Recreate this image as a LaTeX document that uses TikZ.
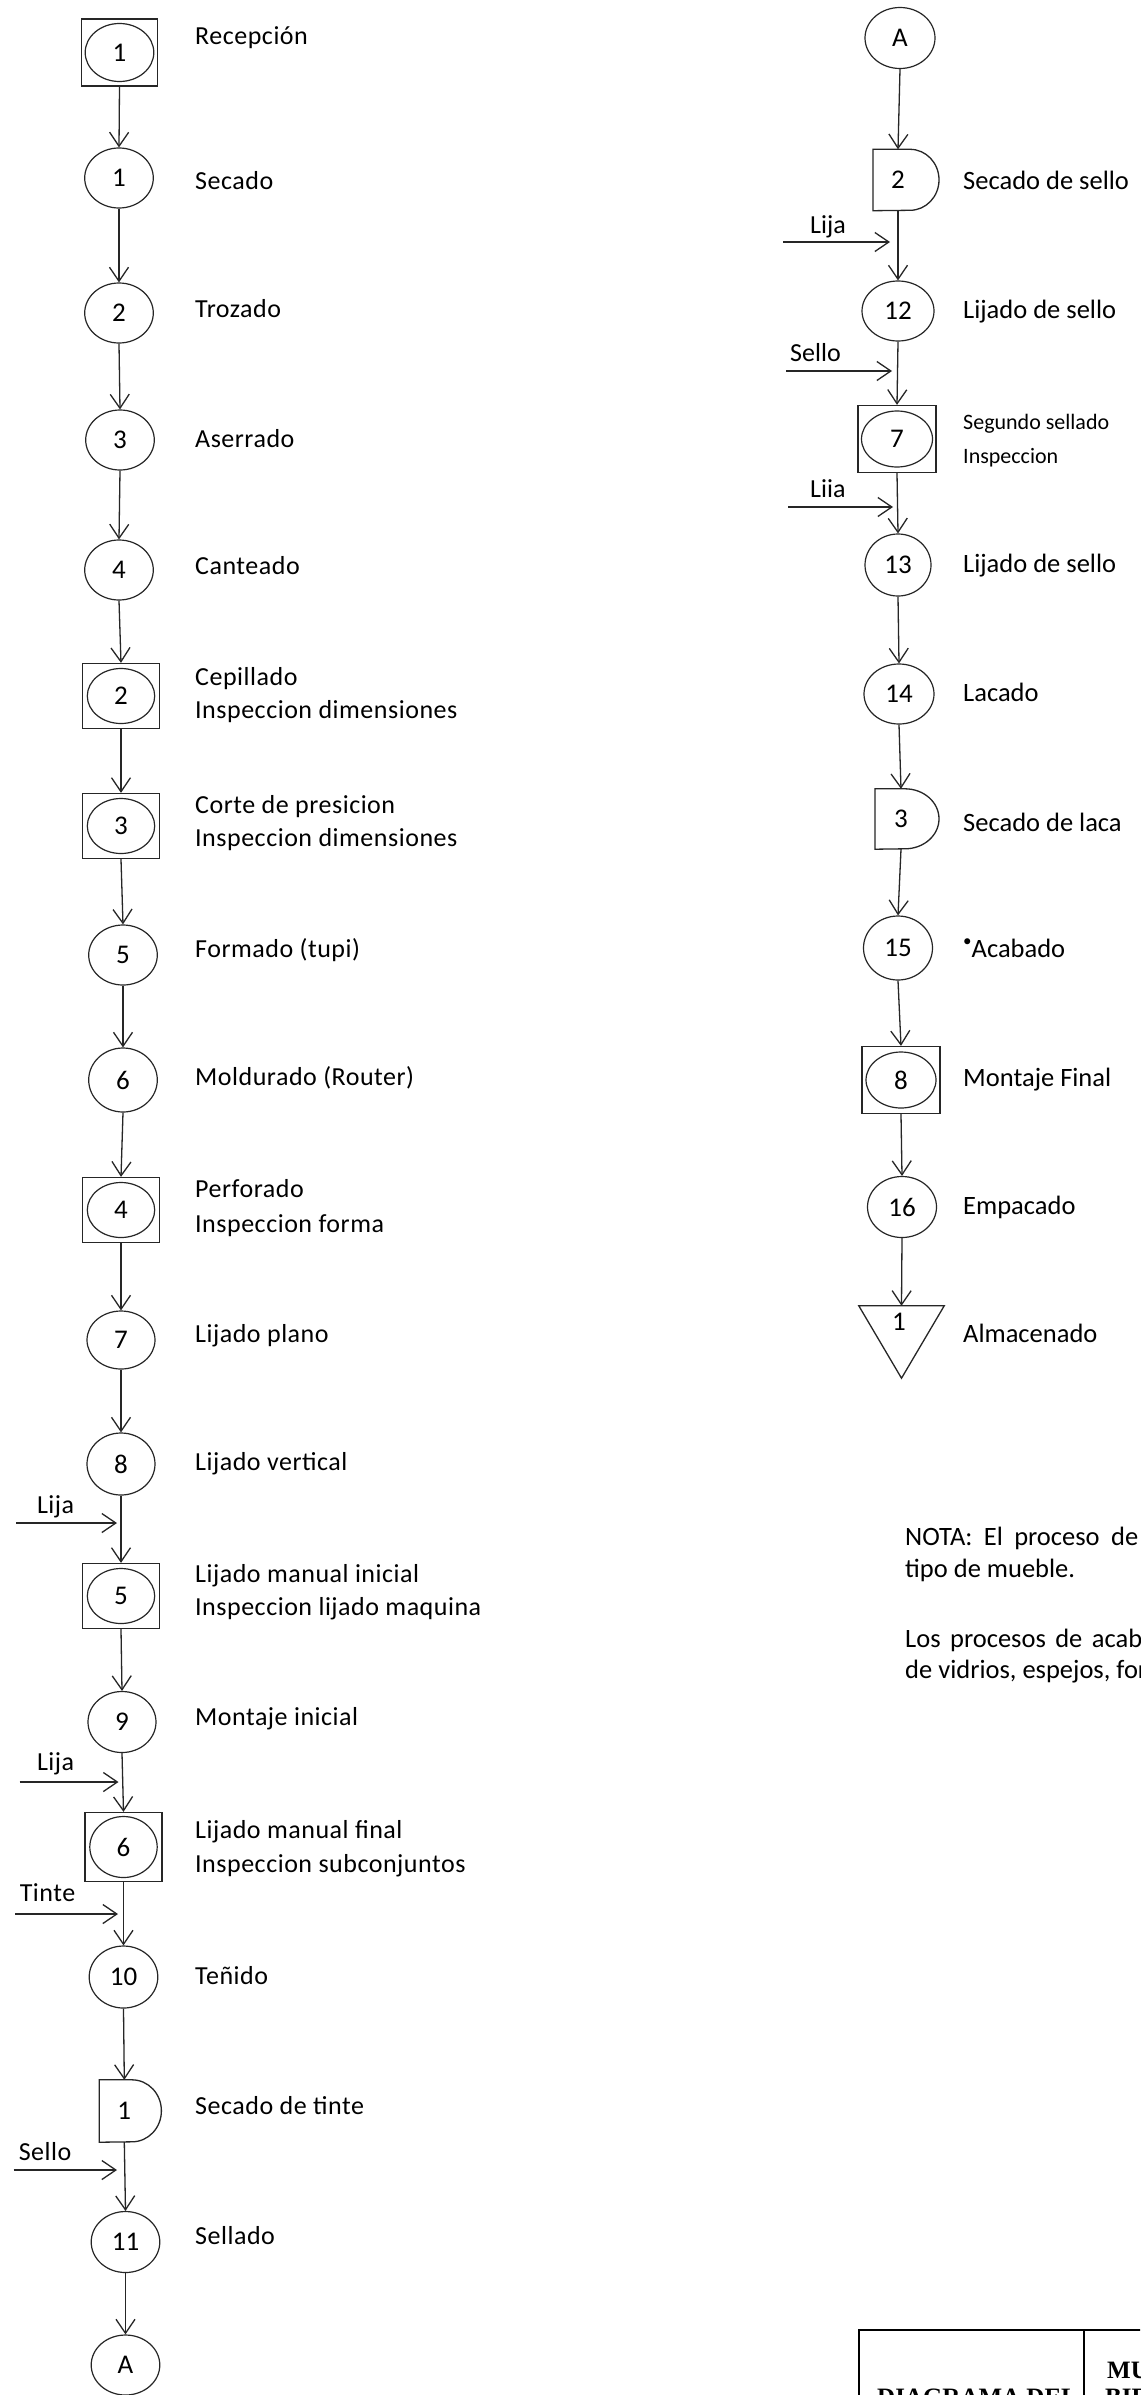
\documentclass[tikz,border=0pt]{standalone}
\usepackage{fontspec}
\setmainfont{Carlito}
\newfontfamily\lblfamily{Carlito}[LetterSpace=2]
\newfontfamily\tablefamily{Liberation Serif}
\usetikzlibrary{shapes.geometric,arrows.meta}

\newcommand\numsize{\fontsize{27}{32}\selectfont}
\newcommand\lblsize{\lblfamily\fontsize{26}{31}\selectfont}
\newcommand\rlblsize{\fontsize{26.5}{32}\selectfont}
\newcommand\smallsize{\fontsize{22}{26}\selectfont}
\newcommand\notesize{\fontsize{26.5}{32}\selectfont}
\newcommand\tblsize{\fontsize{25}{30}\selectfont}

\tikzset{
  ink/.style={draw=black!85},
  op/.style 2 args={ellipse, ink, line width=1.2pt, inner sep=0pt,
    minimum width=#1, minimum height=#2, font=\numsize},
  combo/.style n args={4}{rectangle, ink, line width=1.3pt, inner sep=0pt,
    minimum width=#1, minimum height=#2, font=\numsize,
    path picture={\draw[black!85,line width=1.2pt]
      (path picture bounding box.center) ellipse [x radius=#3, y radius=#4];}},
  dly/.style={inner sep=0pt, minimum width=10pt, font=\numsize},
  shapeline/.style={ink, line width=1.3pt},
  flow/.style={ink, line width=1.3pt, -{Straight Barb[length=14pt,width=19pt]}},
  lbl/.style={anchor=base west, inner sep=0pt, font=\lblsize},
  rlbl/.style={anchor=base west, inner sep=0pt, font=\rlblsize},
  slbl/.style={anchor=base west, inner sep=0pt, font=\smallsize},
  inlbl/.style={anchor=base west, inner sep=0pt, font=\lblsize},
  rinlbl/.style={anchor=base west, inner sep=0pt, font=\fontsize{26}{30}\selectfont},
  note/.style={anchor=base west, inner sep=0pt, font=\notesize},
  tbl/.style={anchor=base west, inner sep=0pt, font=\tablefamily\bfseries\tblsize},
}

% delay symbol: name, position, left offset, flat end, x radius, y radius, label
\newcommand\delaynode[7]{%
  \node[dly, minimum height=2*#6] (#1) at (#2) {#7};
  \draw[shapeline] ([xshift=-#3]#1.south) -- ([xshift=-#3]#1.north)
    -- ([xshift=#4]#1.north) arc[start angle=90, end angle=-90, x radius=#5, y radius=#6]
    -- cycle;}

\begin{document}
\begin{tikzpicture}[x=1pt,y=-1pt]
\useasboundingbox (0,0) rectangle (1140,2395);
\fill[white] (0,0) rectangle (1140,2395);
\clip (0,0) rectangle (1140,2395);

% ---------- left column ----------
\node[combo={76pt}{67pt}{34.3pt}{29pt}] (rec) at (119.5,52.5) {1};
\node[op={68.6pt}{60pt}] (o1) at (119,178) {1};
\node[op={68.6pt}{60pt}] (o2) at (119,313) {2};
\node[op={68.6pt}{60pt}] (o3) at (120,440) {3};
\node[op={68.6pt}{60pt}] (o4) at (119,570) {4};
\node[combo={77pt}{65pt}{33.7pt}{27.5pt}] (c2) at (121,696) {2};
\node[combo={77pt}{65pt}{33.7pt}{27.5pt}] (c3) at (121,826) {3};
\node[op={68.6pt}{60pt}] (o5) at (123,955) {5};
\node[op={68.6pt}{64pt}] (o6) at (123,1080) {6};
\node[combo={77pt}{65pt}{33.7pt}{27.5pt}] (c4) at (121,1210) {4};
\node[op={68pt}{58pt}] (o7) at (121,1340) {7};
\node[op={68pt}{62pt}] (o8) at (121,1464) {8};
\node[combo={77pt}{65pt}{33.7pt}{27.5pt}] (c5) at (121,1596) {5};
\node[op={68pt}{61pt}] (o9) at (122,1722) {9};
\node[combo={77pt}{69pt}{33.7pt}{30.5pt}] (c6) at (123.5,1847) {6};
\node[op={68.6pt}{62pt}] (o10) at (123.5,1977) {10};
\delaynode{d1}{124.3,2111}{25pt}{7.7pt}{29.4pt}{31pt}{1}
\node[op={68.6pt}{61pt}] (o11) at (125.5,2242) {11};
\node[op={68.6pt}{60pt}] (conA) at (125.5,2365) {A};

\foreach \a/\b in {rec/o1,o1/o2,o2/o3,o3/o4,o4/c2,c2/c3,c3/o5,o5/o6,o6/c4,
  c4/o7,o7/o8,o8/c5,c5/o9,o9/c6,c6/o10,o10/d1,d1/o11,o11/conA}
  \draw[flow] (\a.south) -- (\b.north);

\node[lbl] (t1) at (195,45) {Recepción};
\node[lbl] (t2) at (195,189) {Secado};
\node[lbl] (t3) at (195,317) {Trozado};
\node[lbl] (t4) at (195,447) {Aserrado};
\node[lbl] (t5) at (195,574) {Canteado};
\node[lbl] (t6a) at (195,685) {Cepillado};
\node[lbl] (t6b) at (195,718) {Inspeccion dimensiones};
\node[lbl] (t7a) at (195,813) {Corte de presicion};
\node[lbl] (t7b) at (195,846) {Inspeccion dimensiones};
\node[lbl] (t8) at (195,957) {Formado (tupi)};
\node[lbl] (t9) at (195,1085) {Moldurado (Router)};
\node[lbl] (t10a) at (195,1197) {Perforado};
\node[lbl] (t10b) at (195,1232) {Inspeccion forma};
\node[lbl] (t11) at (195,1342) {Lijado plano};
\node[lbl] (t12) at (195,1470) {Lijado vertical};
\node[lbl] (t13a) at (195,1582) {Lijado manual inicial};
\node[lbl] (t13b) at (195,1615) {Inspeccion lijado maquina};
\node[lbl] (t14) at (195,1725) {Montaje inicial};
\node[lbl] (t15a) at (195,1838) {Lijado manual final};
\node[lbl] (t15b) at (195,1872) {Inspeccion subconjuntos};
\node[lbl] (t16) at (195,1984) {Teñido};
\node[lbl] (t17) at (195,2114) {Secado de tinte};
\node[lbl] (t18) at (195,2244) {Sellado};

% material inputs, left column
\coordinate (inL1s) at (16,1523);  \coordinate (inL1e) at (117,1523);
\coordinate (inL2s) at (19.5,1782);  \coordinate (inL2e) at (118.5,1782);
\coordinate (inL3s) at (15,1914);  \coordinate (inL3e) at (118,1914);
\coordinate (inL4s) at (13.5,2170);  \coordinate (inL4e) at (117,2170);
\foreach \s/\e in {inL1s/inL1e,inL2s/inL2e,inL3s/inL3e,inL4s/inL4e}
  \draw[flow] (\s) -- (\e);
\node[inlbl] (mL1) at (36.8,1513) {Lija};
\node[inlbl] (mL2) at (36.8,1770) {Lija};
\node[inlbl] (mL3) at (19.6,1901) {Tinte};
\node[inlbl] (mL4) at (18.6,2160) {Sello};

% ---------- right column ----------
\node[op={70pt}{61pt}] (conB) at (900,38) {A};
\delaynode{d2}{898,180}{25pt}{12pt}{29pt}{30.5pt}{2}
\node[op={72pt}{60pt}] (o12) at (898,311) {12};
\node[combo={78pt}{67pt}{35.5pt}{28pt}] (c7) at (897,439) {7};
\node[op={66pt}{62pt}] (o13) at (898,565) {13};
\node[op={70pt}{60pt}] (o14) at (899,694) {14};
\delaynode{d3}{901,819}{26pt}{4pt}{34pt}{30pt}{3}
\node[op={69pt}{64pt}] (o15) at (898,948) {15};
\node[combo={78pt}{67pt}{35pt}{28pt}] (c8) at (901,1080) {8};
\node[op={69pt}{61pt}] (o16) at (902,1207) {16};
\node[inner sep=0pt, minimum width=85pt, minimum height=72pt] (alm) at (901.5,1342) {};
\draw[shapeline] (alm.north west) -- (alm.north east) -- (alm.south) -- cycle;
\node[font=\numsize, inner sep=0pt] (almnum) at (899,1322) {1};

\foreach \a/\b in {conB/d2,d2/o12,o12/c7,c7/o13,o13/o14,o14/d3,d3/o15,
  o15/c8,c8/o16,o16/alm}
  \draw[flow] (\a.south) -- (\b.north);

\node[rlbl] (r1) at (963,189) {Secado de sello};
\node[rlbl] (r2) at (963,318) {Lijado de sello};
\node[slbl] (r3a) at (963,429) {Segundo sellado};
\node[slbl] (r3b) at (963,463) {Inspeccion};
\node[rlbl] (r4) at (963,572) {Lijado de sello};
\node[rlbl] (r5) at (963,701) {Lacado};
\node[rlbl] (r6) at (963,831) {Secado de laca};
\node[rlbl] (r7) at (963,957) {\raisebox{0.38em}{\fontsize{17}{17}\selectfont\textbullet}Acabado};
\node[rlbl] (r8) at (963,1086) {Montaje Final};
\node[rlbl] (r9) at (963,1214) {Empacado};
\node[rlbl] (r10) at (963,1342) {Almacenado};

% material inputs, right column
\coordinate (inR1s) at (783,242);  \coordinate (inR1e) at (890,242);
\coordinate (inR2s) at (786,371);  \coordinate (inR2e) at (892,371);
\coordinate (inR3s) at (788,507);  \coordinate (inR3e) at (893,507);
\foreach \s/\e in {inR1s/inR1e,inR2s/inR2e,inR3s/inR3e}
  \draw[flow] (\s) -- (\e);
\node[rinlbl] (mR1) at (810,233) {Lija};
\node[rinlbl] (mR2) at (790,361) {Sello};
\node[rinlbl] (mR3) at (810,497) {Liia};

% ---------- note ----------
\node[note] (n1) at (905,1545) {\makebox[233pt][s]{NOTA: El proceso de}};
\node[note] (n2) at (905,1577) {tipo de mueble.};
\node[note] (n3) at (905,1647) {\makebox[237pt][s]{Los procesos de acab}};
\node[note] (n4) at (905,1678) {de vidrios, espejos, for};

% ---------- title block ----------
\draw[line width=2.7pt] (859,2410) -- (859,2330) -- (1150,2330);
\draw[line width=2.7pt] (1084,2330) -- (1084,2410);
\node[tbl] (tb1) at (1107,2378) {MU};
\node[tbl] (tb2) at (877,2405) {DIAGRAMA DEL};
\node[tbl] (tb3) at (1105,2405) {BIE};
\end{tikzpicture}
\end{document}
